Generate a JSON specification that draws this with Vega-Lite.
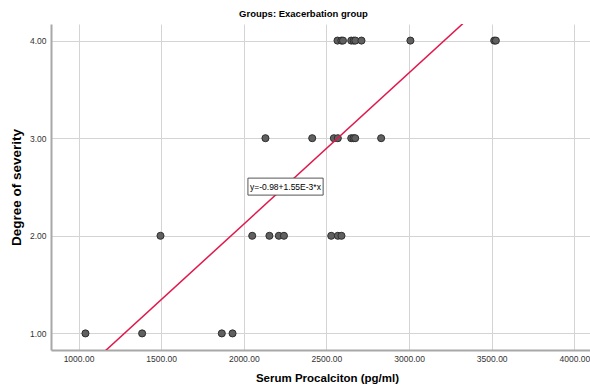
{
  "$schema": "https://vega.github.io/schema/vega-lite/v6.json",
  "autosize": "none",
  "width": 539,
  "height": 326,
  "padding": {"left": 51, "top": 24, "right": 0, "bottom": 40},
  "background": "white",
  "title": {
    "text": "Groups: Exacerbation group",
    "font": "Liberation Sans",
    "fontSize": 9.5,
    "fontWeight": "bold",
    "color": "#000000",
    "anchor": "middle",
    "dx": -17,
    "offset": 6
  },
  "config": {
    "view": {"stroke": null},
    "axis": {
      "labelFont": "Liberation Sans",
      "titleFont": "Liberation Sans",
      "gridColor": "#d4d4d4",
      "gridWidth": 1,
      "domainColor": "#a8a8a8",
      "domainWidth": 2,
      "ticks": false,
      "labelColor": "#333333",
      "titleColor": "#000000"
    }
  },
  "datasets": {
    "pts": [
      {"pct": 2567, "sev": 4}, {"pct": 2590, "sev": 4}, {"pct": 2600, "sev": 4}, {"pct": 2650, "sev": 4},
      {"pct": 2665, "sev": 4}, {"pct": 2675, "sev": 4}, {"pct": 2712, "sev": 4}, {"pct": 3008, "sev": 4},
      {"pct": 3515, "sev": 4}, {"pct": 3525, "sev": 4},
      {"pct": 2131, "sev": 3}, {"pct": 2414, "sev": 3}, {"pct": 2545, "sev": 3}, {"pct": 2569, "sev": 3},
      {"pct": 2650, "sev": 3}, {"pct": 2664, "sev": 3}, {"pct": 2674, "sev": 3}, {"pct": 2831, "sev": 3},
      {"pct": 1496, "sev": 2}, {"pct": 2051, "sev": 2}, {"pct": 2155, "sev": 2}, {"pct": 2212, "sev": 2},
      {"pct": 2243, "sev": 2}, {"pct": 2529, "sev": 2}, {"pct": 2569, "sev": 2}, {"pct": 2591, "sev": 2},
      {"pct": 1042, "sev": 1}, {"pct": 1385, "sev": 1}, {"pct": 1867, "sev": 1}, {"pct": 1932, "sev": 1}
    ],
    "fit": [
      {"pct": 1000, "sev": 0.57},
      {"pct": 3500, "sev": 4.445}
    ],
    "lab": [
      {"x1": 2025, "x2": 2480, "y1": 2.417, "y2": 2.591, "xc": 2252, "yc": 2.504, "txt": "y=-0.98+1.55E-3*x"}
    ]
  },
  "layer": [
    {
      "data": {"name": "pts"},
      "mark": {"type": "point", "filled": true, "size": 50, "fill": "#606060", "stroke": "#2e2e2e", "strokeWidth": 1, "opacity": 1},
      "encoding": {
        "x": {
          "field": "pct", "type": "quantitative",
          "scale": {"domain": [833.6, 4094.6], "nice": false, "zero": false},
          "axis": {
            "values": [1000, 1500, 2000, 2500, 3000, 3500, 4000],
            "format": ".2f",
            "labelFontSize": 8.5,
            "labelPadding": 4,
            "title": "Serum Procalciton (pg/ml)",
            "titleFontSize": 11.5,
            "titleFontWeight": "bold",
            "titleX": 276,
            "titleY": 28,
            "titleBaseline": "middle"
          }
        },
        "y": {
          "field": "sev", "type": "quantitative",
          "scale": {"domain": [0.83, 4.17], "nice": false, "zero": false},
          "axis": {
            "values": [1, 2, 3, 4],
            "format": ".2f",
            "labelFontSize": 8.5,
            "labelPadding": 5,
            "title": "Degree of severity",
            "titleFontSize": 13.5,
            "titleFontWeight": "bold",
            "titleX": -35,
            "titleY": 163,
            "titleBaseline": "middle",
            "titleAnchor": "middle"
          }
        }
      }
    },
    {
      "data": {"name": "fit"},
      "mark": {"type": "line", "color": "#e0184c", "strokeWidth": 1.5, "clip": true},
      "encoding": {
        "x": {"field": "pct", "type": "quantitative"},
        "y": {"field": "sev", "type": "quantitative"}
      }
    },
    {
      "data": {"name": "lab"},
      "mark": {"type": "rect", "fill": "white", "stroke": "#555555", "strokeWidth": 1},
      "encoding": {
        "x": {"field": "x1", "type": "quantitative"},
        "x2": {"field": "x2"},
        "y": {"field": "y1", "type": "quantitative"},
        "y2": {"field": "y2"}
      }
    },
    {
      "data": {"name": "lab"},
      "mark": {"type": "text", "font": "Liberation Sans", "fontSize": 8.5, "color": "#000000", "align": "center", "baseline": "middle"},
      "encoding": {
        "x": {"field": "xc", "type": "quantitative"},
        "y": {"field": "yc", "type": "quantitative"},
        "text": {"field": "txt"}
      }
    }
  ]
}
